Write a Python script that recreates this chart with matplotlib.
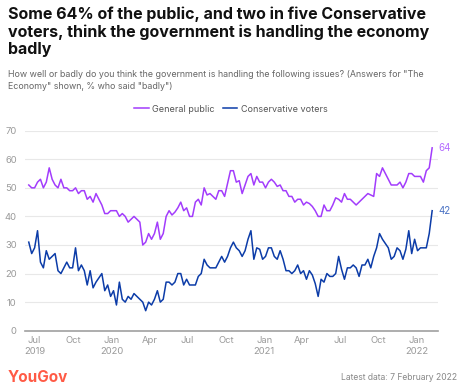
import numpy as np
import pandas as pd
import matplotlib
matplotlib.use('Agg')
import matplotlib.pyplot as plt

# Weekly tracker values ("% who said badly")
general_public = [
    51, 50, 50, 52, 53, 50, 52, 57, 53, 51, 50, 53, 50, 50, 49, 49, 50, 48, 49, 49,
    46, 47, 45, 48, 46, 44, 41, 41, 42, 42, 42, 40, 41, 40, 38, 39, 40, 39, 38, 30,
    31, 34, 32, 34, 38, 32, 34, 40, 42, 40.5, 41.5, 43, 45, 42, 43, 40, 40, 45, 46, 44,
    50, 47.5, 48, 47, 46, 49, 49, 47, 51.5, 56, 56, 52, 52.5, 48, 51, 54, 55, 51, 54, 52,
    52, 50, 52, 53, 52, 50.5, 51, 49, 49, 47, 47, 45, 46, 46, 44, 45, 44.5, 43.5, 42, 40,
    40, 44, 42, 42, 44, 46.5, 46, 45, 48, 46, 46, 45, 44, 45, 46, 47, 48, 47.5, 47, 55,
    54, 57, 55, 53, 51, 51, 51, 52, 50, 52, 55, 55, 54, 54, 54, 52, 56, 57, 64,
]
conservative_voters = [
    31, 27, 29, 35, 24, 22, 28, 25, 26, 27, 21, 20, 22, 24, 22, 22, 29, 21, 23, 21,
    16, 21, 15, 17, 18.5, 20, 14, 16, 12, 14, 9, 17, 11, 10, 12, 11, 13, 12, 11, 10,
    7, 10, 9, 11, 14, 10, 11, 17, 17, 16, 17, 20, 20, 16, 18, 16, 16, 16, 19, 20,
    25, 23, 22, 22, 22, 24, 26, 24, 26, 29, 31, 29, 28, 26, 28, 32, 35, 25, 29, 28.5,
    25, 26, 29, 29, 26, 25, 28, 25, 21, 21, 20, 21, 23, 20, 21, 18, 21, 19.5, 16.5, 12,
    18, 17, 20, 19, 19, 20, 26, 21.5, 18, 22, 22, 23, 22, 19, 23, 23, 25, 22, 26, 29,
    34, 32, 30.5, 29, 25, 26, 29, 28, 25, 28.5, 35, 27, 32, 28, 29, 29, 29, 34, 42,
]
dates = pd.date_range(end='2022-02-07', periods=len(general_public), freq='7D')

tick_dates = pd.to_datetime(['2019-07-01', '2019-10-01', '2020-01-01', '2020-04-01',
                             '2020-07-01', '2020-10-01', '2021-01-01', '2021-04-01',
                             '2021-07-01', '2021-10-01', '2022-01-01'])
tick_labels = ['Jul\n2019', 'Oct', 'Jan\n2020', 'Apr', 'Jul', 'Oct', 'Jan\n2021', 'Apr',
               'Jul', 'Oct', 'Jan\n2022']
y_ticks = [0, 10, 20, 30, 40, 50, 60, 70]

purple = '#a23cfc'
navy = '#0c3ca8'
grey_text = '#9a9a9a'

plt.rcParams['font.family'] = ['Inter', 'DejaVu Sans']

fig = plt.figure(figsize=(4.77, 3.89), dpi=100)
ax = fig.add_axes([25 / 477, 58.3 / 389, 413 / 477, 200 / 389])

ax.plot(dates, general_public, color=purple, linewidth=1.1, label='General public')
ax.plot(dates, conservative_voters, color=navy, linewidth=1.1, label='Conservative voters')

# end-of-line value labels
ax.text(dates[-1] + pd.Timedelta(days=16), general_public[-1], f'{general_public[-1]:.0f}',
        color='#b46cff', fontsize=7, va='center', ha='left')
ax.text(dates[-1] + pd.Timedelta(days=16), conservative_voters[-1], f'{conservative_voters[-1]:.0f}',
        color='#4a72c4', fontsize=7, va='center', ha='left')

ax.set_ylim(0, 70)
ax.set_xlim(pd.Timestamp('2019-06-08'), pd.Timestamp('2022-02-21'))
ax.set_yticks(y_ticks)
ax.set_xticks(tick_dates)
ax.set_xticklabels(tick_labels)
ax.tick_params(axis='both', length=0, labelsize=6.8, colors=grey_text)
ax.tick_params(axis='y', pad=6)
ax.tick_params(axis='x', pad=4)
for lbl in ax.get_xticklabels():
    lbl.set_linespacing(1.25)
ax.grid(axis='y', color='#e8e8e8', linewidth=0.8)
ax.set_axisbelow(True)
for side in ['top', 'right', 'left']:
    ax.spines[side].set_visible(False)
ax.spines['bottom'].set_color('#a0a0a0')
ax.spines['bottom'].set_linewidth(1.2)

leg = fig.legend(loc='center', bbox_to_anchor=(231 / 477, 1 - 109 / 389), ncol=2, frameon=False,
                 fontsize=6.5, handlelength=1.6, handletextpad=0.4, columnspacing=0.9)
for t in leg.get_texts():
    t.set_color('#555555')

fig.text(8 / 477, 1 - 6 / 389,
         'Some 64% of the public, and two in five Conservative\n'
         'voters, think the government is handling the economy\nbadly',
         fontsize=11.5, fontweight='bold', color='#111111', va='top', ha='left', linespacing=1.2)
fig.text(8 / 477, 1 - 70 / 389,
         'How well or badly do you think the government is handling the following issues? (Answers for "The\n'
         'Economy" shown, % who said "badly")',
         fontsize=6.4, color='#666666', va='top', ha='left', linespacing=1.45)

fig.text(8 / 477, 1 - 377 / 389, 'YouGov', fontsize=11, fontweight='bold', color='#ff5a45',
         va='center', ha='left')
fig.text(457 / 477, 1 - 377 / 389, 'Latest data: 7 February 2022', fontsize=6.2, color='#888888',
         va='center', ha='right')

fig.savefig('out.png', dpi=100, facecolor='white')
